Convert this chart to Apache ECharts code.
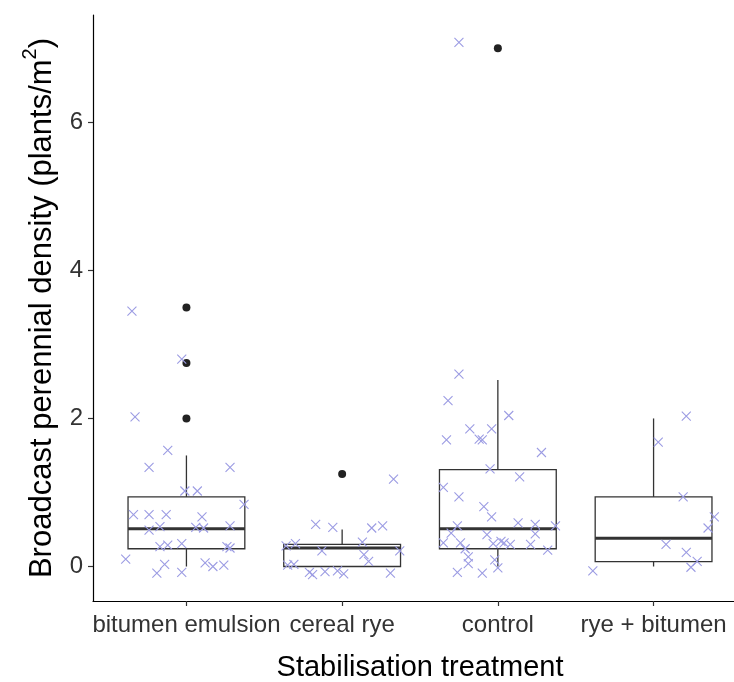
<!DOCTYPE html>
<html>
<head>
<meta charset="utf-8">
<script src="https://cdn.jsdelivr.net/npm/echarts@6/dist/echarts.min.js"></script>
<style>
html,body{margin:0;padding:0;background:#fff;}
#chart{width:734px;height:682px;}
</style>
</head>
<body>
<div id="chart"></div>
<script>
// ---- data ----
var categories = ['bitumen emulsion', 'cereal rye', 'control', 'rye + bitumen'];
var yTicks = [0, 2, 4, 6];
// box stats per category: [lowerWhisker, Q1, median, Q3, upperWhisker]
var boxBitumen = [0, 0.24, 0.51, 0.94, 1.5];
var boxRye = [0, 0, 0.25, 0.30, 0.5];
var boxControl = [0, 0.24, 0.51, 1.31, 2.52];
var boxRyeBitumen = [0, 0.065, 0.38, 0.94, 2.0];
// outliers: [categoryIndex(1-based), value]
var outliers = [[1, 3.5], [1, 2.75], [1, 2.0], [2, 1.25], [3, 7.0]];
// jittered observations: [horizontal jitter offset, value]
var jitterBitumen = [
  [-0.35,3.45],[-0.03,2.80],[-0.33,2.02],[-0.12,1.57],[-0.24,1.34],[0.28,1.34],
  [-0.01,1.02],[0.07,1.02],[0.37,0.84],[-0.34,0.70],[-0.24,0.70],[-0.13,0.70],
  [0.10,0.67],[-0.24,0.49],[-0.17,0.54],[0.06,0.53],[0.11,0.52],[0.28,0.55],
  [-0.17,0.27],[-0.12,0.29],[-0.03,0.31],[0.26,0.27],[0.28,0.25],[-0.39,0.10],
  [-0.14,0.03],[-0.19,-0.09],[-0.03,-0.08],[0.12,0.05],[0.17,0.00],[0.24,0.02]
];
var jitterRye = [
  [0.33,1.18],[-0.17,0.57],[-0.06,0.53],[0.19,0.52],[0.26,0.55],[-0.36,0.28],
  [-0.30,0.31],[-0.13,0.21],[0.13,0.33],[0.14,0.16],[0.17,0.07],[0.37,0.21],
  [-0.35,0.02],[-0.31,0.03],[-0.21,-0.08],[-0.19,-0.11],[-0.11,-0.07],[-0.03,-0.06],
  [0.01,-0.10],[0.31,-0.09]
];
var jitterControl = [
  [-0.25,7.08],[-0.25,2.60],[-0.32,2.24],[0.07,2.04],[-0.18,1.86],[-0.04,1.86],
  [-0.12,1.72],[-0.10,1.71],[-0.33,1.71],[0.28,1.54],[-0.05,1.32],[0.14,1.21],
  [-0.35,1.07],[-0.25,0.94],[-0.09,0.81],[-0.04,0.67],[-0.26,0.55],[0.13,0.59],
  [0.24,0.57],[0.37,0.55],[-0.30,0.45],[-0.07,0.43],[0.24,0.44],[-0.35,0.32],
  [-0.24,0.32],[-0.03,0.31],[0.02,0.34],[0.04,0.32],[0.08,0.30],[0.21,0.30],
  [-0.21,0.24],[0.32,0.22],[-0.19,0.13],[-0.02,0.09],[-0.19,0.04],[0.00,-0.02],
  [-0.26,-0.08],[-0.10,-0.09]
];
var jitterRyeBitumen = [
  [0.21,2.03],[0.03,1.68],[0.19,0.94],[0.39,0.67],[0.35,0.52],[0.08,0.30],
  [0.21,0.19],[0.28,0.07],[0.24,-0.01],[-0.39,-0.06]
];

// ---- build ----
var boxes = [boxBitumen, boxRye, boxControl, boxRyeBitumen];
var boxData = boxes.map(function (b, i) { return [i + 1].concat(b); });
var jitters = [jitterBitumen, jitterRye, jitterControl, jitterRyeBitumen];
var jitterData = [];
jitters.forEach(function (arr, i) {
  arr.forEach(function (p) { jitterData.push([i + 1 + p[0], p[1]]); });
});

var FONT = '"Liberation Sans", Arial, sans-serif';
var chart = echarts.init(document.getElementById('chart'), null, {renderer: 'canvas'});

var option = {
  animation: false,
  backgroundColor: '#ffffff',
  textStyle: {fontFamily: FONT},
  grid: {left: 93, top: 15, width: 654, height: 586, containLabel: false, outerBoundsMode: 'none'},
  xAxis: {
    type: 'value',
    min: 0.4, max: 4.6,
    splitLine: {show: false},
    axisLine: {show: true, onZero: false, lineStyle: {color: '#000', width: 1.2}},
    axisTick: {show: true, customValues: [1, 2, 3, 4], length: 5, lineStyle: {color: '#333', width: 1.2}},
    axisLabel: {
      show: true, customValues: [1, 2, 3, 4], margin: 12,
      fontSize: 24, color: '#333', fontFamily: FONT,
      formatter: function (v) { return categories[Math.round(v) - 1] || ''; }
    },
    name: 'Stabilisation treatment',
    nameLocation: 'middle',
    nameGap: 52,
    nameTextStyle: {fontSize: 29, color: '#000', fontFamily: FONT}
  },
  yAxis: {
    type: 'value',
    min: -0.466, max: 7.45,
    splitLine: {show: false},
    axisLine: {show: true, onZero: false, lineStyle: {color: '#000', width: 1.2}},
    axisTick: {show: true, customValues: yTicks, length: 5, lineStyle: {color: '#333', width: 1.2}},
    axisLabel: {show: true, customValues: yTicks, margin: 10, fontSize: 24, color: '#333', fontFamily: FONT},
    name: '{a|Broadcast perennial density (plants/m}{s|2}{a|)}',
    nameLocation: 'middle',
    nameGap: 35,
    nameRotate: 90,
    nameTextStyle: {
      fontSize: 31, color: '#000', fontFamily: FONT,
      rich: {
        a: {fontSize: 31, color: '#000', fontFamily: FONT, lineHeight: 38, verticalAlign: 'bottom'},
        s: {fontSize: 20, color: '#000', fontFamily: FONT, lineHeight: 38, verticalAlign: 'top'}
      }
    }
  },
  series: [
    {
      type: 'custom',
      name: 'box',
      z: 2,
      data: boxData,
      encode: {x: 0, y: [1, 5]},
      renderItem: function (params, api) {
        var x = api.value(0), lo = api.value(1), q1 = api.value(2), med = api.value(3), q3 = api.value(4), hi = api.value(5);
        var hw = 0.375;
        var tl = api.coord([x - hw, q3]);
        var br = api.coord([x + hw, q1]);
        var mL = api.coord([x - hw, med]);
        var mR = api.coord([x + hw, med]);
        var pHi = api.coord([x, hi]), pQ3 = api.coord([x, q3]), pQ1 = api.coord([x, q1]), pLo = api.coord([x, lo]);
        var stroke = '#333333';
        return {
          type: 'group',
          children: [
            {type: 'line', shape: {x1: pQ3[0], y1: pQ3[1], x2: pHi[0], y2: pHi[1]}, style: {stroke: stroke, lineWidth: 1.3}},
            {type: 'line', shape: {x1: pQ1[0], y1: pQ1[1], x2: pLo[0], y2: pLo[1]}, style: {stroke: stroke, lineWidth: 1.3}},
            {type: 'rect', shape: {x: tl[0], y: tl[1], width: br[0] - tl[0], height: br[1] - tl[1]}, style: {fill: '#ffffff', stroke: stroke, lineWidth: 1.3}},
            {type: 'line', shape: {x1: mL[0], y1: mL[1], x2: mR[0], y2: mR[1]}, style: {stroke: stroke, lineWidth: 3}}
          ]
        };
      }
    },
    {
      type: 'scatter',
      name: 'outliers',
      z: 3,
      data: outliers,
      symbol: 'circle',
      symbolSize: 8,
      itemStyle: {color: '#222222', opacity: 1},
      silent: true
    },
    {
      type: 'scatter',
      name: 'observations',
      z: 4,
      data: jitterData,
      symbol: 'path://M0,0L10,10M10,0L0,10',
      symbolSize: 9,
      itemStyle: {color: 'none', borderColor: '#9c9ce3', borderWidth: 1.1, opacity: 1},
      silent: true
    }
  ]
};
chart.setOption(option);
</script>
</body>
</html>
